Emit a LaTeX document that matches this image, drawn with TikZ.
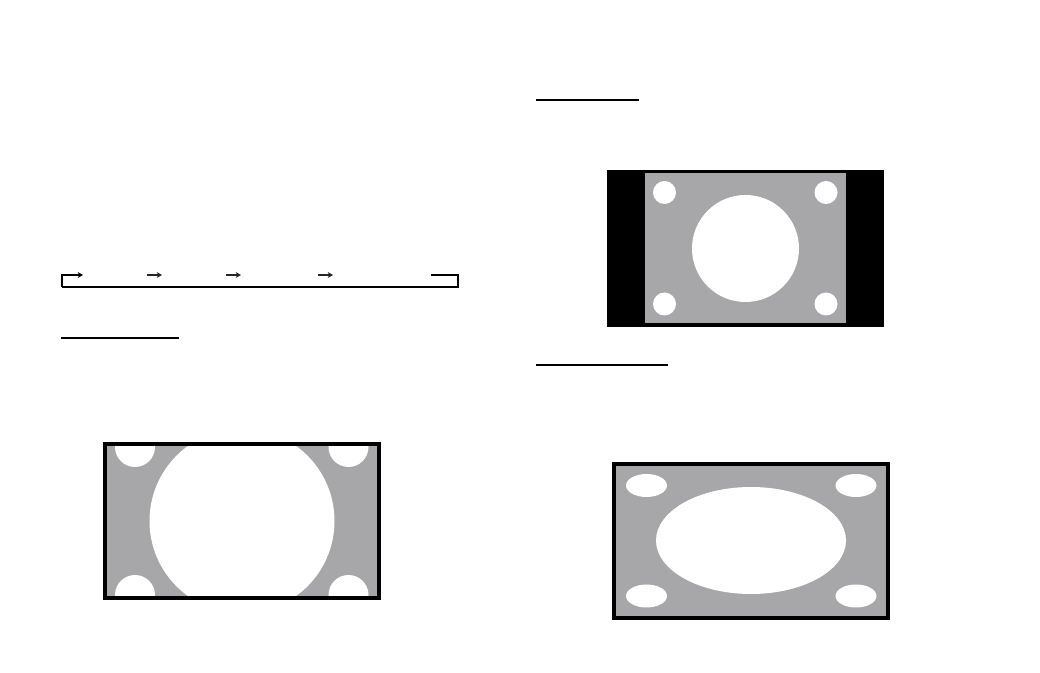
\documentclass[tikz,border=0pt]{standalone}
\usetikzlibrary{arrows.meta}
\definecolor{scrgrey}{RGB}{167,167,169}
\begin{document}
\begin{tikzpicture}[x=0.75pt,y=-0.75pt,
  screen/.style={fill=scrgrey},
  hole/.style={fill=white},
  bezel/.style={draw=black,line width=3pt},
  uline/.style={draw=black,line width=1pt},
  loopline/.style={draw=black,line width=0.8pt},
  steparrow/.style={draw=black!85,line width=0.8pt,-{Stealth[length=4pt,width=4.5pt]}}]
\useasboundingbox (0,0) rectangle (1040,673);

% loop connector with arrows
\coordinate (l0) at (62,287);
\coordinate (l1) at (62,275);
\coordinate (l2) at (83,275);
\coordinate (r0) at (431,275);
\coordinate (r1) at (458,275);
\coordinate (r2) at (458,287);
\draw[loopline,-{Stealth[length=4pt,width=4.5pt]}] (l0) -- (l1) -- (l2);
\draw[loopline] (r0) -- (r1) -- (r2) -- (l0);
\coordinate (a1s) at (147,275); \coordinate (a1e) at (162,275);
\coordinate (a2s) at (226,275); \coordinate (a2e) at (241,275);
\coordinate (a3s) at (318,275); \coordinate (a3e) at (333,275);
\draw[steparrow] (a1s) -- (a1e);
\draw[steparrow] (a2s) -- (a2e);
\draw[steparrow] (a3s) -- (a3e);

% underlines
\draw[uline] (61,338) -- (179,338);
\draw[uline] (536,100) -- (639,100);
\draw[uline] (536,365) -- (668,365);

% screen 1 : stretched full
\begin{scope}
\clip (107,446) rectangle (377,596);
\fill[screen] (107,446) rectangle (377,596);
\fill[hole] (242,521) circle (92.5);
\fill[hole] (135,447) circle (20);
\fill[hole] (348.5,447) circle (20);
\fill[hole] (135,595) circle (20);
\fill[hole] (348.5,595) circle (20);
\end{scope}
\draw[bezel] (105,444) rectangle (379,598);

% screen 2 : pillar box
\fill[black] (607,170) rectangle (884,327);
\fill[screen] (645,173) rectangle (846,323);
\fill[hole] (745.5,248.5) circle (53.5);
\fill[hole] (664.5,192.5) circle (11.5);
\fill[hole] (826,192.5) circle (11.5);
\fill[hole] (664.5,304) circle (11.5);
\fill[hole] (826,304) circle (11.5);

% screen 3 : zoom
\fill[screen] (614,464) rectangle (888,618);
\fill[hole] (751,540.5) ellipse [x radius=95, y radius=53.5];
\fill[hole] (646.5,485.5) ellipse [x radius=20.5, y radius=11.5];
\fill[hole] (856,485.5) ellipse [x radius=20.5, y radius=11.5];
\fill[hole] (646.5,596) ellipse [x radius=20.5, y radius=11.5];
\fill[hole] (856,596) ellipse [x radius=20.5, y radius=11.5];
\draw[bezel] (614,464) rectangle (888,618);
\end{tikzpicture}
\end{document}
